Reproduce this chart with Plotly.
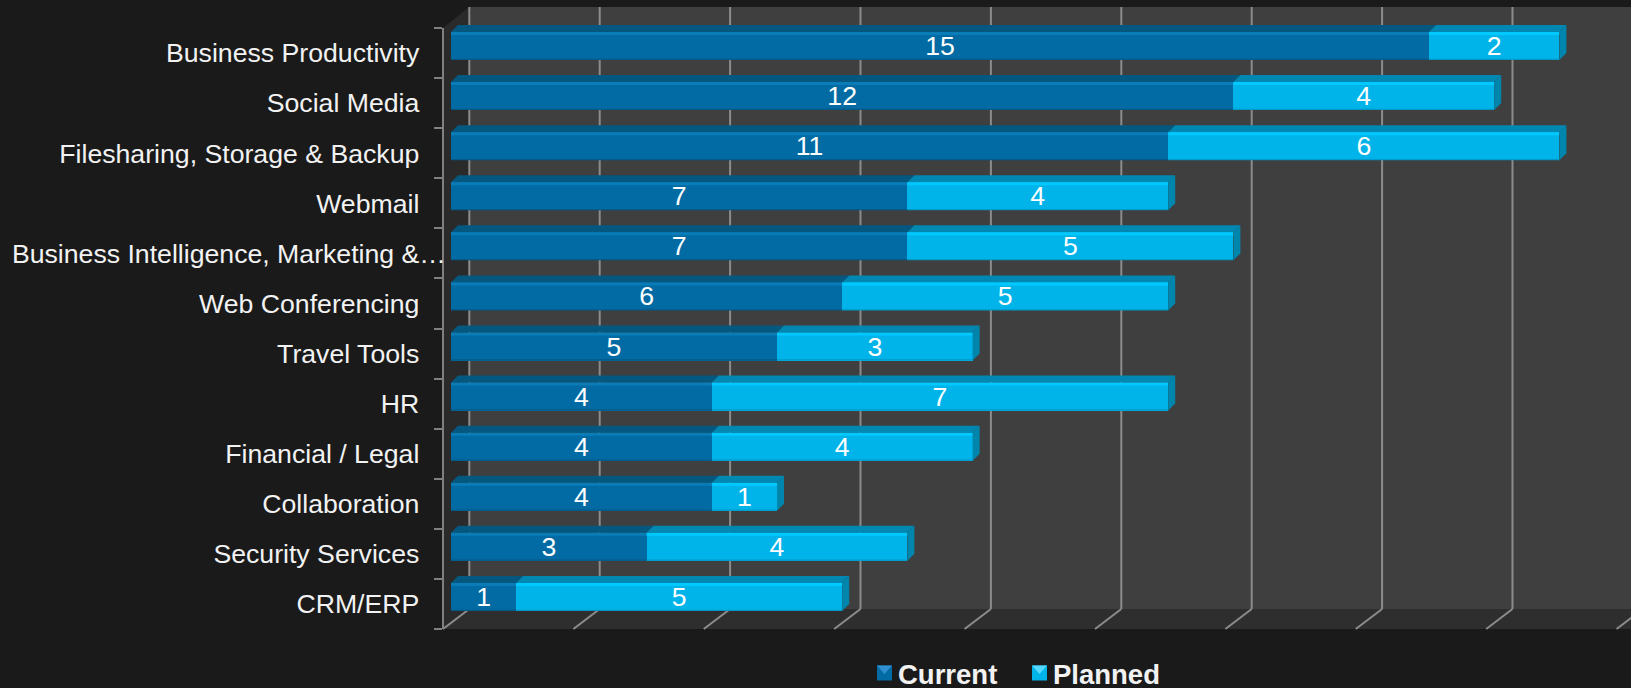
import plotly.graph_objects as go

categories = ["Business Productivity", "Social Media", "Filesharing, Storage & Backup", "Webmail",
              "Business Intelligence, Marketing &\u2026", "Web Conferencing", "Travel Tools", "HR",
              "Financial / Legal", "Collaboration", "Security Services", "CRM/ERP"]
current = [15, 12, 11, 7, 7, 6, 5, 4, 4, 4, 3, 1]
planned = [2, 4, 6, 4, 5, 5, 3, 7, 4, 1, 4, 5]
grid_values = list(range(0, 20, 2))

W, H = 1631, 688
L, B = 443, 59
PX_X = 65.2      # pixels per unit on x
PX_Y = 50.08     # pixels per category band
ZERO = 451
DEPTH = 7
PW, PH = W - L, H - B

def px(x): return (x - L) / PW
def py(y): return 1 - y / PH

dx = DEPTH / PX_X
dy = DEPTH / PX_Y
BAR_W = 28 / PX_Y
BAR_OFF = -0.42

CUR = dict(front="#036ba3", top="#04587f", high="#0a7cb8", low="#035a89", side="#044f78")
PLA = dict(front="#00b4ea", top="#0088b2", high="#00c9ff", low="#0099c8", side="#0086ad")

shapes = []
def poly(points, color, xref="paper", yref="paper", layer="below"):
    d = "M" + " L".join(f"{a},{b}" for a, b in points) + " Z"
    shapes.append(dict(type="path", path=d, xref=xref, yref=yref, layer=layer,
                       fillcolor=color, line=dict(width=0)))

# walls and floor
poly([(px(469), py(7)), (px(1631), py(7)), (px(1631), py(609)), (px(469), py(609))], "#3f3f3f")
poly([(px(443), py(28)), (px(469), py(7)), (px(469), py(609)), (px(443), py(629))], "#2a2a2a")
poly([(px(443), py(629)), (px(469), py(609)), (px(1631), py(609)), (px(1631), py(629))], "#2e2e2e")

# gridlines on wall + floor
GRID = "#8c8c8c"
for v in grid_values:
    back = v + 18.3 / PX_X
    front = v - 8 / PX_X
    shapes.append(dict(type="line", xref="x", yref="paper", x0=back, x1=back, y0=py(7), y1=py(609),
                       layer="below", line=dict(color=GRID, width=2)))
    shapes.append(dict(type="line", xref="x", yref="paper", x0=back, x1=front, y0=py(609), y1=py(629),
                       layer="below", line=dict(color=GRID, width=2)))

# category axis line
shapes.append(dict(type="line", xref="paper", yref="paper", x0=0, x1=0, y0=py(28), y1=py(629),
                   layer="below", line=dict(color="#808080", width=2)))

# 3-D faces of each bar segment, derived from the data
for i, (c, p) in enumerate(zip(current, planned)):
    t = i + BAR_OFF
    b = t + BAR_W
    total = c + p
    for x0, x1, col in ((0, c, CUR), (c, total, PLA)):
        poly([(x0, t), (x0 + dx, t - dy), (x1 + dx, t - dy), (x1, t)], col["top"], "x", "y", "above")
        poly([(x0, t), (x1, t), (x1, t + 0.06), (x0, t + 0.06)], col["high"], "x", "y", "above")
        poly([(x0, b - 0.025), (x1, b - 0.025), (x1, b), (x0, b)], col["low"], "x", "y", "above")
    poly([(total, t), (total + dx, t - dy), (total + dx, b - dy), (total, b)], PLA["side"], "x", "y", "above")

ticktext = [c + ("" if c.endswith("\u2026") else "\u00a0\u00a0\u00a0\u200a\u200a") for c in categories]

fig = go.Figure()
fig.add_bar(name="Current", y=categories, x=current, orientation="h",
            width=BAR_W, offset=BAR_OFF, marker=dict(color=CUR["front"], line=dict(width=0)),
            text=current, textposition="inside", insidetextanchor="middle", textangle=0,
            constraintext="none", textfont=dict(color="#ffffff", size=26.67, family="Liberation Sans"))
fig.add_bar(name="Planned", y=categories, x=planned, orientation="h",
            width=BAR_W, offset=BAR_OFF, marker=dict(color=PLA["front"], line=dict(width=0)),
            text=planned, textposition="inside", insidetextanchor="middle", textangle=0,
            constraintext="none", textfont=dict(color="#ffffff", size=26.67, family="Liberation Sans"))

fig.update_layout(
    width=W, height=H, barmode="stack",
    margin=dict(l=L, r=0, t=0, b=B, pad=0, autoexpand=False),
    paper_bgcolor="#1a1a1a", plot_bgcolor="rgba(0,0,0,0)",
    shapes=shapes,
    font=dict(family="Liberation Sans", color="#f2f2f2"),
    xaxis=dict(range=[(L - ZERO) / PX_X, (W - ZERO) / PX_X], visible=False, fixedrange=True),
    yaxis=dict(type="category", categoryorder="array", categoryarray=categories,
               range=[11.5, -0.5 - 28 / PX_Y], tickmode="array", tickvals=categories, ticktext=ticktext,
               showgrid=False, zeroline=False, showline=False,
               ticks="outside", tickson="boundaries", ticklen=8, tickwidth=2, tickcolor="#808080",
               tickfont=dict(size=26.67, color="#f2f2f2", family="Liberation Sans"),
               ticklabelstandoff=-4, automargin=False, fixedrange=True),
    legend=dict(orientation="h", x=px(858), xanchor="left", y=py(673), yanchor="middle",
                bgcolor="rgba(0,0,0,0)", traceorder="normal", entrywidth=110, entrywidthmode="pixels",
                font=dict(size=27.5, color="#f2f2f2", family="Liberation Sans", weight="bold")),
)

POST = """
document.documentElement.style.background = '#1a1a1a';
document.body.style.margin = '0';
document.body.style.background = '#1a1a1a';
var tops = ['#2f8fd0', '#55d8ff'];
document.querySelectorAll('.legend .traces').forEach(function (g, i) {
  var p = g.querySelector('.legendpoints path');
  if (!p) return;
  p.setAttribute('d', 'M7.5,7.5H-7.5V-7.5H7.5Z');
  p.setAttribute('transform', 'translate(26.5,0)');
  var t = document.createElementNS('http://www.w3.org/2000/svg', 'path');
  t.setAttribute('d', 'M-7.5,-7.5H7.5L0,1Z');
  t.setAttribute('transform', 'translate(26.5,0)');
  t.setAttribute('fill', tops[i]);
  p.parentNode.appendChild(t);
});
"""
fig.write_html("out.html", config={"displayModeBar": False}, post_script=POST)
